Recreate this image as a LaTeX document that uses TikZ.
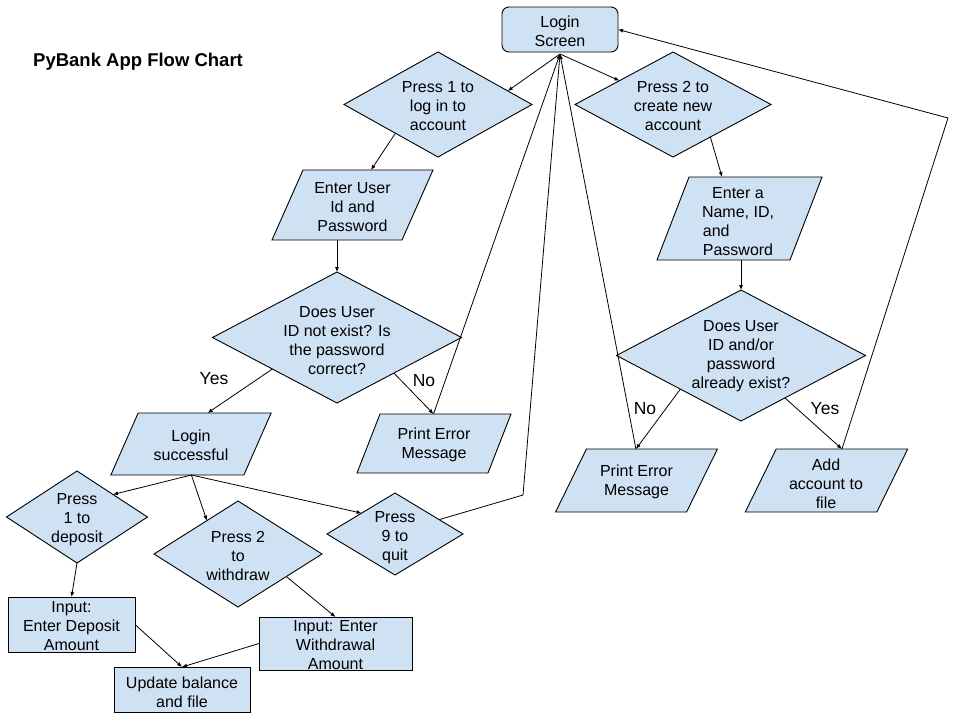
\documentclass[tikz,border=0pt]{standalone}
\usepackage{fontspec}
\setmainfont{Liberation Sans}
\usetikzlibrary{shapes.geometric,arrows.meta,calc}
\definecolor{boxblue}{RGB}{207,226,243}
\begin{document}
\begin{tikzpicture}[x=1pt,y=-1pt,
  shp/.style={draw=black,fill=boxblue,line width=0.9pt,inner sep=0pt,outer sep=0pt},
  dia/.style={shp,diamond,shape aspect=1},
  para/.style={shp,rectangle},
  rbox/.style={shp,rectangle},
  txt/.style={inner sep=0pt,align=center,yshift=-1.5pt,font=\fontsize{16}{19}\selectfont},
  lbl/.style={inner sep=0pt,font=\fontsize{17.5}{20}\selectfont},
  conn/.style={draw=black,line width=0.8pt,-{Latex[length=5pt,width=4pt]}},
  plain/.style={draw=black,line width=0.8pt}]
\useasboundingbox (0,0) rectangle (960,720);

% title
\node[inner sep=0pt,anchor=base west,font=\fontsize{18.5}{22}\bfseries\selectfont] (title) at (33,66) {PyBank App Flow Chart};

% shapes
\node[rbox,rounded corners=7pt,minimum width=116pt,minimum height=45pt] (login) at (560,29.5) {};
\node[txt] (login-t) at (login.center) {Login\\Screen};

\node[dia,minimum width=188pt,minimum height=105pt] (p1) at (438,104.5) {};
\node[txt] (p1-t) at (p1.center) {Press 1 to\\log in to\\account};

\node[dia,minimum width=196pt,minimum height=105pt] (p2) at (673,104.5) {};
\node[txt] (p2-t) at (p2.center) {Press 2 to\\create new\\account};

\node[para,minimum width=130pt,minimum height=70pt,xslant=0.443] (eu) at (352.5,205) {};
\node[txt] (eu-t) at (352.5,206) {Enter User\\Id and\\Password};

\node[para,minimum width=133pt,minimum height=83pt,xslant=0.386] (en) at (739.5,218.5) {};
\node[txt] (en-t) at (738,220) {Enter a\\Name, ID,\\\rlap{and}\phantom{Password}\\Password};

\node[dia,minimum width=249pt,minimum height=131pt] (d1) at (337,337.5) {};
\node[txt] (d1-t) at (337,339) {Does User\\ID not exist? Is\\the password\\correct?};

\node[para,minimum width=131pt,minimum height=59pt,xslant=0.39] (pe1) at (434,443.5) {};
\node[txt] (pe1-t) at (pe1.center) {Print Error\\Message};

\node[para,minimum width=133pt,minimum height=62pt,xslant=0.44] (ls) at (191,444) {};
\node[txt] (ls-t) at (ls.center) {Login\\successful};

\node[dia,minimum width=249pt,minimum height=131pt] (d2) at (741,355.5) {};
\node[txt] (d2-t) at (741,355) {Does User\\ID and/or\\password\\already exist?};

\node[para,minimum width=131pt,minimum height=63pt,xslant=0.49] (pe2) at (636.5,480.5) {};
\node[txt] (pe2-t) at (pe2.center) {Print Error\\Message};

\node[para,minimum width=131.5pt,minimum height=63pt,xslant=0.49] (add) at (826.5,480.5) {};
\node[txt] (add-t) at (826,482) {Add\\account to\\file};

\node[dia,minimum width=141pt,minimum height=92pt] (q1) at (77,517) {};
\node[txt] (q1-t) at (77,518.5) {Press\\1 to\\deposit};

\node[dia,minimum width=168pt,minimum height=106pt] (q2) at (238,554) {};
\node[txt] (q2-t) at (q2.center) {Press 2\\to\\withdraw};

\node[dia,minimum width=136pt,minimum height=82pt] (q9) at (395,534) {};
\node[txt] (q9-t) at (395,536) {Press\\9 to\\quit};

\node[rbox,minimum width=127pt,minimum height=55pt] (dep) at (71.5,624.5) {};
\node[txt] (dep-t) at (dep.center) {Input:\\Enter Deposit\\Amount};

\node[rbox,minimum width=153pt,minimum height=53pt] (wd) at (335.5,643.5) {};
\node[txt] (wd-t) at (wd.center) {Input: Enter\\Withdrawal\\Amount};

\node[rbox,minimum width=136pt,minimum height=45pt] (up) at (182,689.5) {};
\node[txt] (up-t) at (182,690.5) {Update balance\\and file};

% helper coordinates
\coordinate (c1) at (948,118);
\coordinate (c2) at (523,495);
\coordinate (lb) at ($(login.south)+(0,2)$);

% connectors
\draw[conn] (lb) -- (p1.11);
\draw[conn] (lb) -- (p2.156);
\draw[conn] (p1.214) -- ($(eu.north)+(3,0)$);
\draw[conn] (d1.north |- eu.south) -- (d1.north);
\draw[conn] (d1.206) -- ($(ls.north)+(3,0)$);
\draw[conn] (d1.328) -- ($(pe1.north)+(-12,0)$);
\draw[conn] ($(pe1.north)+(-12,0)$) -- (lb);
\draw[conn] (p2.319) -- ($(en.north west)+(33,0)$);
\draw[conn] (d2.north |- en.south) -- (d2.north);
\draw[conn] (d2.209) -- ($(pe2.north)+(-16,0)$);
\draw[conn] (d2.316) -- (add.north);
\draw[conn] (add.north) -- (c1) -- (login.east);
\draw[conn] ($(pe2.north)+(-16,0)$) -- (lb);
\draw[conn] ($(ls.south)+(14,0)$) -- (q1.32);
\draw[conn] ($(ls.south)+(14,0)$) -- (q2.133);
\draw[conn] ($(ls.south)+(14,0)$) -- (q9.148);
\draw[conn] (q9.18) -- (c2) -- (lb);
\draw[conn] (q1.south) -- (dep.north);
\draw[conn] (q2.335) -- (wd.north);
\draw[conn] (dep.east) -- (up.north);
\draw[conn] (wd.west) -- (up.north);

% labels
\node[lbl] (yes1) at (214,379) {Yes};
\node[lbl] (no1) at (424,381) {No};
\node[lbl] (no2) at (645,409) {No};
\node[lbl] (yes2) at (825,409) {Yes};
\end{tikzpicture}
\end{document}
